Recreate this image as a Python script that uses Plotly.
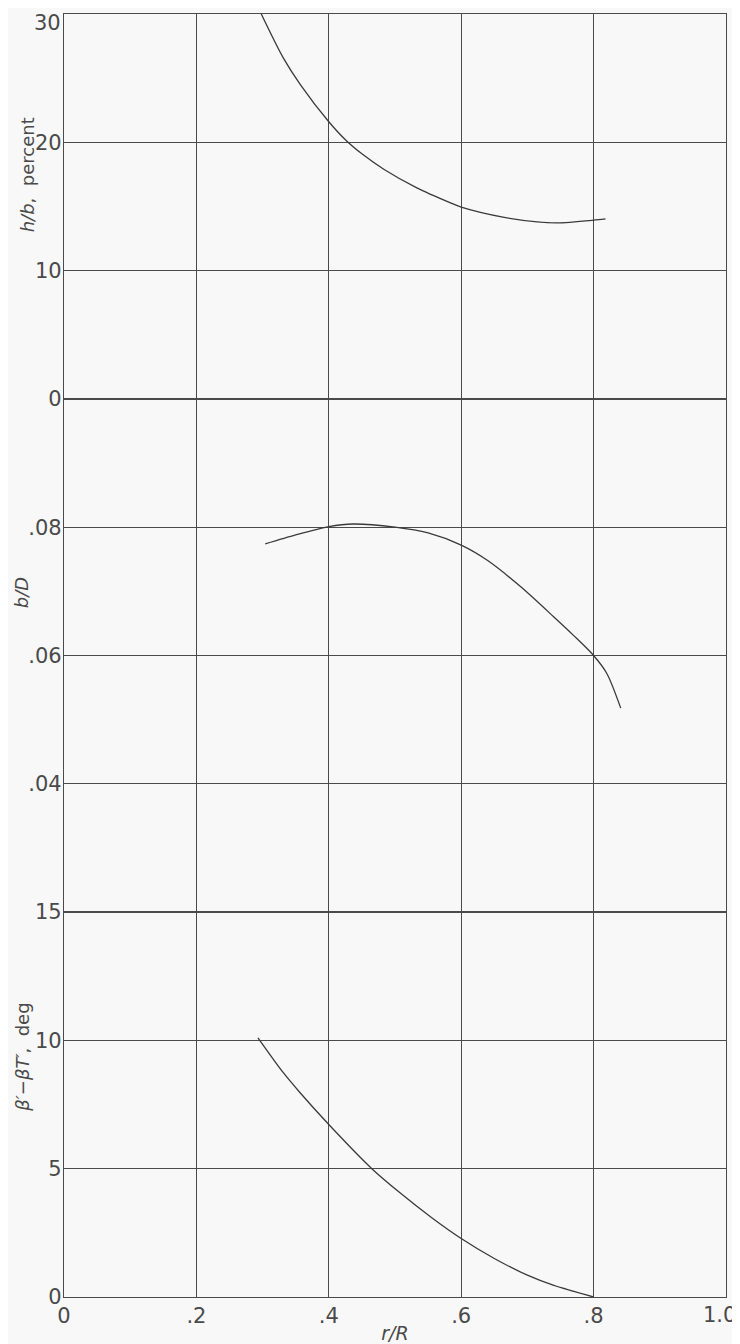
import plotly.graph_objects as go
from plotly.subplots import make_subplots

# h/b, percent vs r/R
r_hb = [0.298, 0.331, 0.357, 0.40, 0.427, 0.45, 0.483, 0.533, 0.583, 0.60, 0.665, 0.715, 0.745, 0.80, 0.818]
hb = [30.0, 26.6, 24.5, 21.6, 20.1, 19.1, 17.9, 16.45, 15.3, 14.95, 14.15, 13.8, 13.72, 13.93, 14.03]

# b/D vs r/R
r_bd = [0.304, 0.35, 0.40, 0.437, 0.50, 0.55, 0.60, 0.64, 0.69, 0.74, 0.77, 0.80, 0.82, 0.841]
bd = [0.0774, 0.0788, 0.0801, 0.0805, 0.0800, 0.0791, 0.0772, 0.0748, 0.0707, 0.0660, 0.0631, 0.0600, 0.0572, 0.0518]

# beta' - beta_T', deg vs r/R
r_bt = [0.293, 0.331, 0.356, 0.40, 0.465, 0.508, 0.555, 0.60, 0.65, 0.70, 0.74, 0.80]
bt = [10.1, 8.75, 7.98, 6.72, 5.0, 4.05, 3.1, 2.28, 1.5, 0.85, 0.45, 0.0]

x_ticks = [0, 0.2, 0.4, 0.6, 0.8, 1.0]
x_ticktext = ["0", ".2", ".4", ".6", ".8", "1.0"]
hb_ticks = [0, 10, 20, 30]
bd_ticks = [0.04, 0.06, 0.08]
bd_ticktext = [".04", ".06", ".08"]
bt_ticks = [0, 5, 10, 15]

BG = "#f8f8f8"
INK = "#3a3a3a"
TXT = "#4a4a4a"
FONT = "DejaVu Sans"
TICKFONT = dict(family=FONT, size=21, color=TXT)

fig = make_subplots(rows=3, cols=1, shared_xaxes=True, vertical_spacing=0,
                    row_heights=[0.3, 0.4, 0.3])

line = dict(color=INK, width=1.3, shape="spline", smoothing=0.8)
fig.add_trace(go.Scatter(x=r_hb, y=hb, mode="lines", line=line), row=1, col=1)
fig.add_trace(go.Scatter(x=r_bd, y=bd, mode="lines", line=line), row=2, col=1)
fig.add_trace(go.Scatter(x=r_bt, y=bt, mode="lines", line=line), row=3, col=1)

axis_common = dict(showgrid=True, gridcolor="#4a4a4a", gridwidth=1.1,
                   showline=True, linecolor="#4a4a4a", linewidth=1.3, mirror=True,
                   zeroline=False, ticks="", automargin=False,
                   ticklabeloverflow="allow", tickfont=TICKFONT)

# the outermost labels (x = 1.0, y = 30) sit at the page edge; they are drawn as
# annotations nudged inward so they are not cut off
x_text_axis = [t if v != x_ticks[-1] else "" for v, t in zip(x_ticks, x_ticktext)]
hb_text_axis = [str(v) if v != hb_ticks[-1] else "" for v in hb_ticks]

for i in range(1, 4):
    fig.update_xaxes(range=[0, 1], tickvals=x_ticks, ticktext=x_text_axis,
                     **axis_common, row=i, col=1)
fig.update_xaxes(title=dict(text="<i>r/R</i>", font=dict(family=FONT, size=19, color=TXT), standoff=4),
                 row=3, col=1)

yax_extra = dict(ticklabelstandoff=-3)
fig.update_yaxes(range=[0, 30], tickvals=hb_ticks, ticktext=hb_text_axis, **axis_common, **yax_extra, row=1, col=1)
fig.update_yaxes(range=[0.02, 0.10], tickvals=bd_ticks, ticktext=bd_ticktext, **axis_common, **yax_extra, row=2, col=1)
fig.update_yaxes(range=[0, 15], tickvals=bt_ticks, **axis_common, **yax_extra, row=3, col=1)

fig.add_annotation(text=x_ticktext[-1], xref="x3", yref="paper", x=x_ticks[-1], y=0,
                   xanchor="right", yanchor="top", xshift=12, yshift=-4,
                   showarrow=False, font=TICKFONT)
fig.add_annotation(text=str(hb_ticks[-1]), xref="paper", yref="y", x=0, y=hb_ticks[-1],
                   xanchor="right", yanchor="top", xshift=-1, yshift=5,
                   showarrow=False, font=TICKFONT)

ann_font = dict(family=FONT, size=18, color=TXT)
fig.add_annotation(text="<i>h/b</i>,  percent", xref="paper", yref="paper", x=-0.056, y=0.875,
                   textangle=-90, showarrow=False, font=ann_font, xanchor="center", yanchor="middle")
fig.add_annotation(text="<i>b/D</i>", xref="paper", yref="paper", x=-0.064, y=0.549,
                   textangle=-90, showarrow=False, font=ann_font, xanchor="center", yanchor="middle")
fig.add_annotation(text="<i>β′−βT′</i>,  deg", xref="paper", yref="paper", x=-0.064, y=0.187,
                   textangle=-90, showarrow=False, font=ann_font, xanchor="center", yanchor="middle")

# page body has an 8px default margin; figure is sized/offset to compensate
fig.update_layout(width=732, height=1336, showlegend=False,
                  paper_bgcolor=BG, plot_bgcolor=BG,
                  margin=dict(l=56, r=14, t=6, b=47, autoexpand=False))

fig.write_html("out.html")
